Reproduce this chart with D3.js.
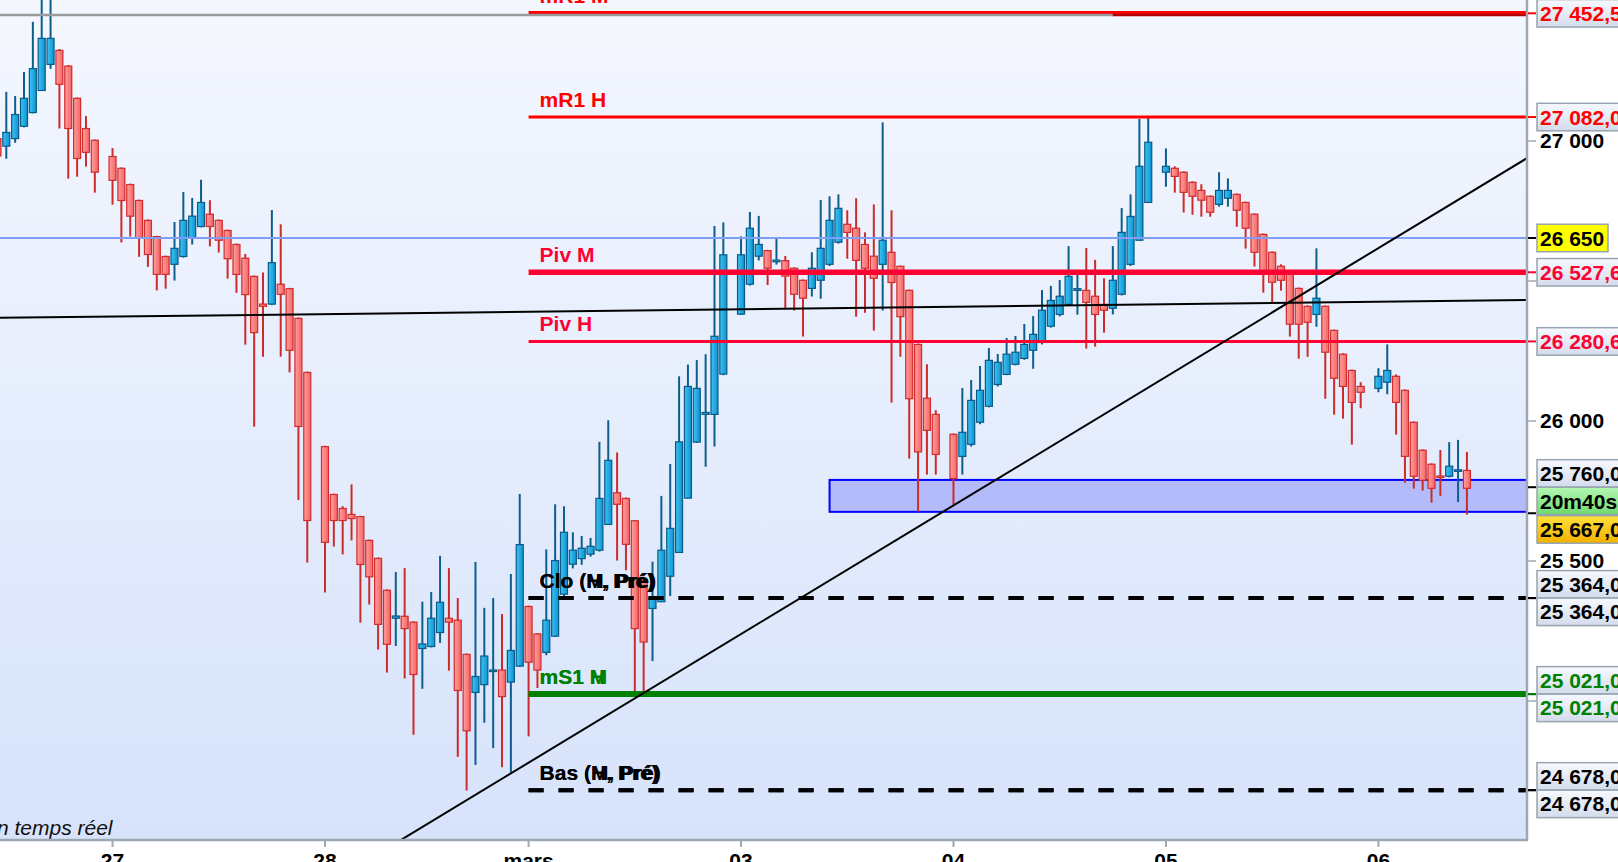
<!DOCTYPE html>
<html>
<head>
<meta charset="utf-8">
<script src="https://cdn.jsdelivr.net/npm/d3@7"></script>
<style>
  body { margin: 0; background: #fff; overflow: hidden; }
  svg { display: block; font-family: "Liberation Sans", Arial, Helvetica, sans-serif; }
</style>
</head>
<body>
<svg id="chart" width="1618" height="862"></svg>
<script>
// hourly bars [open, high, low, close], one per slot, null = no bar (session break)
const firstSlot = -1
const bars = [
    [27005, 27020, 26930, 26943],
    [26978, 27172, 26933, 27027], [27005, 27157, 26990, 27091], [27049, 27243, 27045, 27149], [27098, 27422, 27095, 27255],
    [27177, 27540, 27175, 27363], [27270, 27540, 27254, 27363], [27320, 27325, 27041, 27199], [27264, 27268, 26862, 27041],
    [27149, 27152, 26869, 26934], [27041, 27086, 26905, 26956], [26999, 27002, 26812, 26885], null,
    // 27
    [26941, 26971, 26769, 26856], [26899, 26902, 26634, 26784], [26841, 26844, 26655, 26728], [26784, 26787, 26583, 26649],
    [26713, 26716, 26547, 26591], [26655, 26658, 26463, 26520], [26584, 26587, 26469, 26520], [26556, 26707, 26498, 26613],
    [26584, 26814, 26580, 26713], [26649, 26793, 26627, 26728], [26691, 26858, 26688, 26777], [26735, 26785, 26620, 26691],
    [26713, 26716, 26598, 26642], [26677, 26680, 26505, 26576], [26627, 26630, 26454, 26520], [26578, 26593, 26269, 26448],
    [26513, 26516, 25976, 26312], [26414, 26527, 26226, 26406], [26414, 26750, 26410, 26562], [26485, 26699, 26226, 26449],
    [26469, 26472, 26170, 26249], [26363, 26366, 25714, 25977], [26170, 26173, 25491, 25641], null,
    // 28
    [25905, 25908, 25384, 25563], [25734, 25737, 25548, 25641], [25684, 25692, 25520, 25641], [25663, 25770, 25570, 25648],
    [25655, 25658, 25276, 25484], [25570, 25573, 25341, 25440], [25506, 25509, 25180, 25270], [25392, 25395, 25098, 25199],
    [25292, 25457, 25193, 25300], [25299, 25471, 25077, 25255], [25278, 25281, 24876, 25091], [25184, 25351, 25040, 25200],
    [25191, 25386, 25188, 25292], [25241, 25515, 25204, 25349], [25292, 25471, 25105, 25278], [25285, 25364, 24797, 25034],
    [25163, 25166, 24677, 24890], [25027, 25493, 24768, 25084], [25055, 25329, 24919, 25157], [25102, 25364, 24828, 25107],
    [25107, 25307, 24760, 25012], [25064, 25450, 24740, 25177], [25121, 25736, 25118, 25555],
    // mars
    [25334, 25337, 24870, 25135], [25236, 25239, 25043, 25107], [25170, 25538, 25160, 25285], [25228, 25699, 25225, 25498],
    [25378, 25692, 25370, 25599], [25485, 25599, 25470, 25535], [25505, 25586, 25483, 25542], [25521, 25579, 25512, 25549],
    [25535, 25922, 25530, 25720], [25627, 25999, 25625, 25856], [25740, 25884, 25498, 25699], [25720, 25723, 25463, 25556],
    [25640, 25643, 25029, 25255], [25426, 25429, 25029, 25207], [25327, 25494, 25139, 25364], [25351, 25729, 25350, 25535],
    [25442, 25843, 25371, 25613], [25527, 26156, 25525, 25922], [25721, 26198, 25720, 26120], [25921, 26214, 25918, 26113],
    [26020, 26235, 25833, 26027], [26020, 26693, 25905, 26299], [26164, 26706, 26160, 26590], null,
    // 03
    [26378, 26656, 26375, 26590], [26485, 26743, 26480, 26685], [26585, 26729, 26570, 26627], [26605, 26608, 26482, 26542],
    [26565, 26649, 26555, 26571], [26569, 26586, 26395, 26514], [26542, 26545, 26391, 26449], [26499, 26502, 26298, 26435],
    [26470, 26599, 26441, 26542], [26499, 26786, 26433, 26613], [26556, 26799, 26550, 26713], [26635, 26806, 26630, 26756],
    [26699, 26749, 26576, 26670], [26685, 26792, 26369, 26570], [26627, 26670, 26383, 26542], [26585, 26770, 26319, 26506],
    [26556, 27063, 26391, 26642], [26599, 26749, 26062, 26491], [26549, 26552, 26226, 26369], [26463, 26466, 25862, 26076],
    [26270, 26273, 25673, 25886], [26078, 26199, 25805, 25963], [26020, 26035, 25805, 25877], null,
    // 04
    [25949, 25952, 25698, 25791], [25870, 26114, 25805, 25956], [25913, 26143, 25905, 26070], [25992, 26193, 25985, 26106],
    [26049, 26257, 26045, 26213], [26127, 26236, 26120, 26206], [26163, 26293, 26160, 26235], [26199, 26300, 26195, 26242],
    [26220, 26343, 26215, 26270], [26249, 26371, 26183, 26306], [26277, 26464, 26270, 26392], [26335, 26479, 26330, 26427],
    [26377, 26500, 26370, 26442], [26413, 26621, 26410, 26513], [26463, 26518, 26376, 26469], [26463, 26614, 26255, 26420],
    [26442, 26572, 26262, 26377], [26413, 26506, 26312, 26392], [26399, 26621, 26377, 26499], [26449, 26757, 26445, 26670],
    [26556, 26806, 26550, 26727], [26642, 27075, 26640, 26906], [26777, 27085, 26775, 26992], null,
    // 05
    [26885, 26970, 26833, 26906], [26899, 26906, 26812, 26870], [26885, 26888, 26741, 26813], [26849, 26852, 26733, 26799],
    [26820, 26842, 26726, 26785], [26799, 26802, 26726, 26742], [26770, 26885, 26762, 26820], [26792, 26863, 26762, 26820],
    [26806, 26809, 26690, 26749], [26777, 26780, 26612, 26685], [26735, 26738, 26548, 26599], [26663, 26666, 26455, 26522],
    [26599, 26602, 26419, 26492], [26549, 26556, 26462, 26499], [26528, 26531, 26298, 26342], [26470, 26473, 26219, 26342],
    [26406, 26409, 26226, 26349], [26377, 26613, 26333, 26435], [26406, 26409, 26076, 26242], [26320, 26323, 26019, 26149],
    [26235, 26238, 26005, 26120], [26177, 26180, 25912, 26063], [26120, 26135, 26042, 26099], null,
    // 06
    [26113, 26185, 26099, 26156], [26135, 26270, 26092, 26177], [26156, 26163, 25948, 26063], [26106, 26109, 25776, 25870],
    [25992, 25995, 25755, 25799], [25892, 25895, 25748, 25785], [25842, 25845, 25705, 25756], [25800, 25893, 25729, 25795],
    [25799, 25921, 25795, 25835], [25817, 25929, 25707, 25822], [25820, 25886, 25662, 25756]
]

const dayTicks = [12, 36, 59, 83, 107, 131, 155]
const dayLabels = ["27", "28", "mars", "03", "04", "05", "06"]
const priceTicks = [27000, 26500, 26000, 25500, 25000]

// monthly (M) and weekly (H) levels, drawn from the start of march
const levelNames = ["mR1 M", "mR1 H", "Piv M", "Piv H", "Clo (M, Pré)", "Clo (H, Pré)", "mS1 M", "mS1 H", "Bas (M, Pré)", "Bas (H, Pré)"]
const levelValues = [27452.5, 27082.0, 26527.6, 26280.6, 25364.0, 25364.0, 25021.0, 25021.0, 24678.0, 24678.0]
const levelStartSlot = 59

const userLevel = 26650
const oldLevel = 27446
const oldLevelEndSlot = 125
const zoneStartSlot = 93
const zoneTop = 25786
const zoneBottom = 25672
const trendA = [[0, 26365], [165, 26426]]
const trendB = [[72, 25025], [107, 25695]]
const lastPrice = 25760
const bidPrice = 25667
const countdown = "20m40s"
const footnote = "en temps réel"

function fmt(v, dec) {
    // 27452.5 -> "27 452,5"
    const s = dec ? v.toFixed(1) : String(Math.round(v))
    const [a, b] = s.split(".")
    const int = a.replace(/\B(?=(\d{3})+(?!\d))/g, " ")
    return b !== undefined ? int + "," + b : int
}

function drawChart() {
    // 1. Dimensions and scales
    const plotRight = 1527
    const plotBottom = 840
    const svg = d3.select("#chart")

    const x = d3.scaleLinear().domain([0, 155]).range([6.3, 1378.4])
    const y = d3.scaleLinear().domain([24500, 27500]).range([plotBottom, 0])

    const candles = bars
        .map((b, i) => b && { slot: firstSlot + i, o: b[0], h: b[1], l: b[2], c: b[3] })
        .filter(d => d)

    // 2. Defs: gradients and clip
    const defs = svg.append("defs")
    const bg = defs.append("linearGradient").attr("id", "bg").attr("x1", 0).attr("y1", 0).attr("x2", 0).attr("y2", 1)
    bg.append("stop").attr("offset", "0%").attr("stop-color", "#f4f7fe")
    bg.append("stop").attr("offset", "100%").attr("stop-color", "#d7e3fb")

    const gUp = defs.append("linearGradient").attr("id", "up")
    gUp.append("stop").attr("offset", "0%").attr("stop-color", "#3fc3f3")
    gUp.append("stop").attr("offset", "100%").attr("stop-color", "#0c93d2")
    const gDown = defs.append("linearGradient").attr("id", "down")
    gDown.append("stop").attr("offset", "0%").attr("stop-color", "#ffa0a0")
    gDown.append("stop").attr("offset", "100%").attr("stop-color", "#f46464")

    const boxGrad = (id, top, bottom) => {
        const g = defs.append("linearGradient").attr("id", id).attr("x1", 0).attr("y1", 0).attr("x2", 0).attr("y2", 1)
        g.append("stop").attr("offset", "0%").attr("stop-color", top)
        g.append("stop").attr("offset", "100%").attr("stop-color", bottom)
    }
    boxGrad("box", "#f7f9fe", "#d3dcec")
    boxGrad("boxGreen", "#b4f7b4", "#6fd86f")
    boxGrad("boxOrange", "#ffe13a", "#f2b100")

    defs.append("clipPath").attr("id", "plot")
        .append("rect").attr("x", 0).attr("y", 0).attr("width", plotRight).attr("height", plotBottom)

    svg.append("rect").attr("width", plotRight).attr("height", plotBottom).attr("fill", "url(#bg)")

    const plot = svg.append("g").attr("clip-path", "url(#plot)")

    // 3. Zone rectangle under the candles
    plot.append("rect")
        .attr("x", x(zoneStartSlot))
        .attr("y", y(zoneTop))
        .attr("width", plotRight - x(zoneStartSlot) + 5)
        .attr("height", y(zoneBottom) - y(zoneTop))
        .attr("fill", "#b4bbfa")
        .attr("stroke", "#0000ff")
        .attr("stroke-width", 2)

    // 4. Candles
    const bodyW = 7
    const cg = plot.selectAll(".candle")
        .data(candles)
        .join("g")
        .attr("class", "candle")

    cg.append("line")
        .attr("x1", d => x(d.slot)).attr("x2", d => x(d.slot))
        .attr("y1", d => y(d.h)).attr("y2", d => y(d.l))
        .attr("stroke", d => d.c >= d.o ? "#0b5e8e" : "#cc2b2b")
        .attr("stroke-width", 2)

    cg.append("rect")
        .attr("x", d => x(d.slot) - bodyW / 2)
        .attr("y", d => y(Math.max(d.o, d.c)))
        .attr("width", bodyW)
        .attr("height", d => Math.max(1.5, Math.abs(y(d.o) - y(d.c))))
        .attr("fill", d => d.c >= d.o ? "url(#up)" : "url(#down)")
        .attr("stroke", d => d.c >= d.o ? "#0a5a88" : "#d22c2c")
        .attr("stroke-width", 1.2)

    // 5. Horizontal levels
    const levelStyle = name => {
        if (name.startsWith("mR1")) return { color: "#ff0000", w: name.endsWith("M") ? 4.5 : 3, dash: null }
        if (name.startsWith("Piv")) return { color: "#ff0033", w: name.endsWith("M") ? 5.5 : 3, dash: null }
        if (name.startsWith("mS1")) return { color: "#008000", w: 6, dash: null }
        return { color: "#000000", w: 4, dash: "15,15" }
    }

    levelNames.forEach((name, i) => {
        const st = levelStyle(name)
        plot.append("line")
            .attr("x1", x(levelStartSlot)).attr("x2", plotRight)
            .attr("y1", y(levelValues[i])).attr("y2", y(levelValues[i]))
            .attr("stroke", st.color)
            .attr("stroke-width", st.w)
            .attr("stroke-dasharray", st.dash)
    })

    // older level, grey then dark red
    plot.append("line")
        .attr("x1", 0).attr("x2", x(oldLevelEndSlot))
        .attr("y1", y(oldLevel)).attr("y2", y(oldLevel))
        .attr("stroke", "#9a9a9a").attr("stroke-width", 2.5)
    plot.append("line")
        .attr("x1", x(oldLevelEndSlot)).attr("x2", plotRight)
        .attr("y1", y(oldLevel)).attr("y2", y(oldLevel))
        .attr("stroke", "#b50000").attr("stroke-width", 2.5)

    // user level
    plot.append("line")
        .attr("x1", 0).attr("x2", plotRight)
        .attr("y1", y(userLevel)).attr("y2", y(userLevel))
        .attr("stroke", "#7f9ef4").attr("stroke-width", 2)

    // 6. Trend lines, extended across the plot
    const slotMin = x.invert(0), slotMax = x.invert(plotRight)
    ;[trendA, trendB].forEach(t => {
        const k = (t[1][1] - t[0][1]) / (t[1][0] - t[0][0])
        const at = s => t[0][1] + k * (s - t[0][0])
        plot.append("line")
            .attr("x1", x(slotMin)).attr("y1", y(at(slotMin)))
            .attr("x2", x(slotMax)).attr("y2", y(at(slotMax)))
            .attr("stroke", "#000").attr("stroke-width", 2)
    })

    // 7. Level names in the chart (M and H overlap when equal)
    levelNames.forEach((name, i) => {
        plot.append("text")
            .attr("x", x(levelStartSlot) + 11)
            .attr("y", y(levelValues[i]) - 10)
            .attr("fill", levelStyle(name).color)
            .attr("font-size", 21)
            .attr("font-weight", "bold")
            .text(name)
    })

    plot.append("text")
        .attr("x", x(dayTicks[0]))
        .attr("y", plotBottom - 5)
        .attr("text-anchor", "end")
        .attr("font-size", 21)
        .attr("font-style", "italic")
        .attr("fill", "#111")
        .text(footnote)

    // 8. Axes
    const axisColor = "#9ea8b2"
    svg.append("line")
        .attr("x1", 0).attr("x2", plotRight + 1)
        .attr("y1", plotBottom).attr("y2", plotBottom)
        .attr("stroke", axisColor).attr("stroke-width", 2.5)
    svg.append("line")
        .attr("x1", plotRight).attr("x2", plotRight)
        .attr("y1", 0).attr("y2", plotBottom + 1)
        .attr("stroke", axisColor).attr("stroke-width", 2.5)

    const xTicks = svg.selectAll(".xtick")
        .data(dayTicks)
        .join("g")
        .attr("transform", d => `translate(${x(d)},${plotBottom})`)
    xTicks.append("line").attr("y1", 1).attr("y2", 7).attr("stroke", axisColor).attr("stroke-width", 2)
    xTicks.append("text")
        .attr("y", 28)
        .attr("text-anchor", "middle")
        .attr("font-size", 21)
        .attr("font-weight", "bold")
        .attr("fill", "#000")
        .text((d, i) => dayLabels[i])

    // 9. Right-hand price boxes
    const boxH = 27.5
    const boxes = []
    const seen = {}
    levelNames.forEach((name, i) => {
        const v = levelValues[i]
        const same = levelValues.filter(u => u === v).length
        seen[v] = (seen[v] || 0) + 1
        let cy = y(v)
        if (same > 1) cy += seen[v] === 1 ? -boxH / 2 : boxH / 2
        boxes.push({ v, cy, text: fmt(v, true), color: levelStyle(name).color, tick: levelStyle(name).color, fill: "url(#box)" })
    })
    boxes.push({ v: userLevel, cy: y(userLevel), text: fmt(userLevel, false), color: "#000", tick: "#000", fill: "#ffff00", w: 71 })
    boxes.push({ v: lastPrice, cy: y(lastPrice) - boxH / 2, text: fmt(lastPrice, true), color: "#000", tick: "#000", fill: "url(#box)" })
    boxes.push({ v: null, cy: y(lastPrice) + boxH / 2, text: countdown, color: "#000", tick: null, fill: "url(#boxGreen)" })
    boxes.push({ v: bidPrice, cy: y(lastPrice) + boxH * 1.5 + 1, text: fmt(bidPrice, true), color: "#000", tick: "#000", fill: "url(#boxOrange)" })

    // plain price ticks, label hidden where a box covers it
    priceTicks.forEach(p => {
        svg.append("line")
            .attr("x1", plotRight + 1).attr("x2", plotRight + 9)
            .attr("y1", y(p) + 1).attr("y2", y(p) + 1)
            .attr("stroke", "#b4bcc4").attr("stroke-width", 2)
        const hidden = boxes.some(b => Math.abs(b.cy - y(p)) < boxH / 2 + 7)
        if (!hidden) {
            svg.append("text")
                .attr("x", plotRight + 13)
                .attr("y", y(p))
                .attr("dy", "0.36em")
                .attr("font-size", 21)
                .attr("font-weight", "bold")
                .attr("fill", "#000")
                .text(fmt(p, false))
        }
    })

    boxes.forEach(b => {
        if (b.tick) {
            svg.append("line")
                .attr("x1", plotRight + 1).attr("x2", plotRight + 9)
                .attr("y1", y(b.v)).attr("y2", y(b.v))
                .attr("stroke", b.tick).attr("stroke-width", 2)
        }
        svg.append("rect")
            .attr("x", plotRight + 10)
            .attr("y", b.cy - boxH / 2)
            .attr("width", b.w || 100)
            .attr("height", boxH)
            .attr("fill", b.fill)
            .attr("stroke", "#98a4b0")
            .attr("stroke-width", 1.5)
        svg.append("text")
            .attr("x", plotRight + 13)
            .attr("y", b.cy)
            .attr("dy", "0.36em")
            .attr("font-size", 21)
            .attr("font-weight", "bold")
            .attr("fill", b.color)
            .text(b.text)
    })
}

drawChart()
</script>
</body>
</html>
